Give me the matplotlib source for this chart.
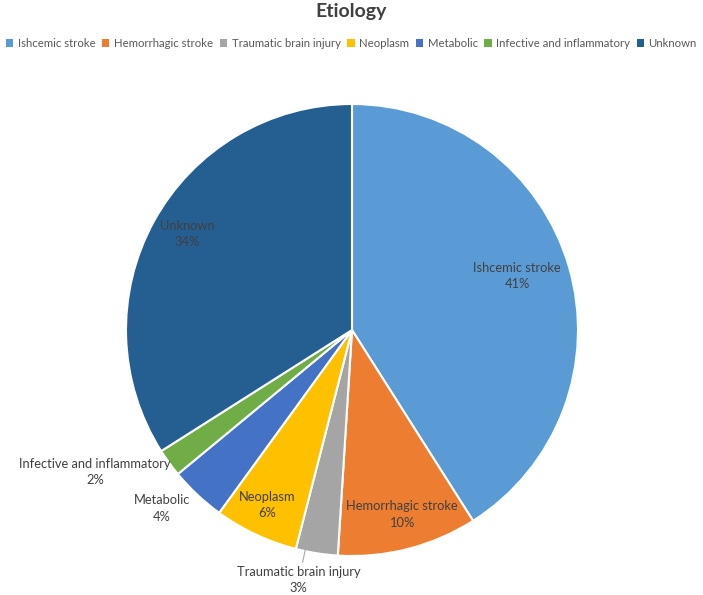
import matplotlib
matplotlib.use('Agg')
import matplotlib.pyplot as plt
import numpy as np

plt.rcParams['font.family'] = ['Lato', 'DejaVu Sans']

categories = ['Ishcemic stroke', 'Hemorrhagic stroke', 'Traumatic brain injury',
              'Neoplasm', 'Metabolic', 'Infective and inflammatory', 'Unknown']
values = [41, 10, 3, 6, 4, 2, 34]
colors = ['#5B9BD5', '#ED7D31', '#A5A5A5', '#FFC000', '#4472C4', '#70AD47', '#255E91']

# label placement: radial distance (in radii) and angle nudge (deg)
label_r = [0.768, 0.846, 1.131, 0.861, 1.154, 1.299, 0.844]
label_dang = [1.8, 0.8, -3, -0.7, -3.6, -7.1, -1.3]


def main():
    fig = plt.figure(figsize=(7.03, 5.95), dpi=100)
    w, h = 452 / 703, 452 / 595
    ax = fig.add_axes([(352 - 226) / 703, (265 - 226) / 595, w, h])

    wedges, _ = ax.pie(values, colors=colors, startangle=90, counterclock=False,
                       wedgeprops=dict(edgecolor='white', linewidth=1.5))
    ax.set_xlim(-1, 1)
    ax.set_ylim(-1, 1)
    ax.set_aspect('equal')
    ax.axis('off')

    total = sum(values)
    for i, wdg in enumerate(wedges):
        mid = (wdg.theta1 + wdg.theta2) / 2
        ang = np.deg2rad(mid + label_dang[i])
        r = label_r[i]
        x, y = r * np.cos(ang), r * np.sin(ang)
        pct = round(100 * values[i] / total)
        ax.text(x, y, '%s\n%d%%' % (categories[i], pct), ha='center', va='center',
                fontsize=9.3, color='#404040', linespacing=1.42, clip_on=False)
        if categories[i] == 'Traumatic brain injury':
            a0 = np.deg2rad(mid - 3)
            ax.plot([0.99 * np.cos(a0), 1.05 * np.cos(a0)],
                    [0.99 * np.sin(a0), 1.05 * np.sin(a0)],
                    color='#A6A6A6', lw=0.8, clip_on=False)

    fig.suptitle('Etiology', y=0.995, fontsize=14, fontweight='bold', color='#404040')
    leg = fig.legend(wedges, categories, loc='center', bbox_to_anchor=(0.5, 0.927), ncol=7,
                     frameon=False, fontsize=8.2, handlelength=0.62, handleheight=0.62,
                     handletextpad=0.4, columnspacing=0.6, labelcolor='#595959',
                     borderpad=0, borderaxespad=0)
    for hd in leg.legend_handles:
        hd.set_edgecolor('none')

    fig.savefig('out.png', dpi=100, facecolor='white')


if __name__ == '__main__':
    main()
